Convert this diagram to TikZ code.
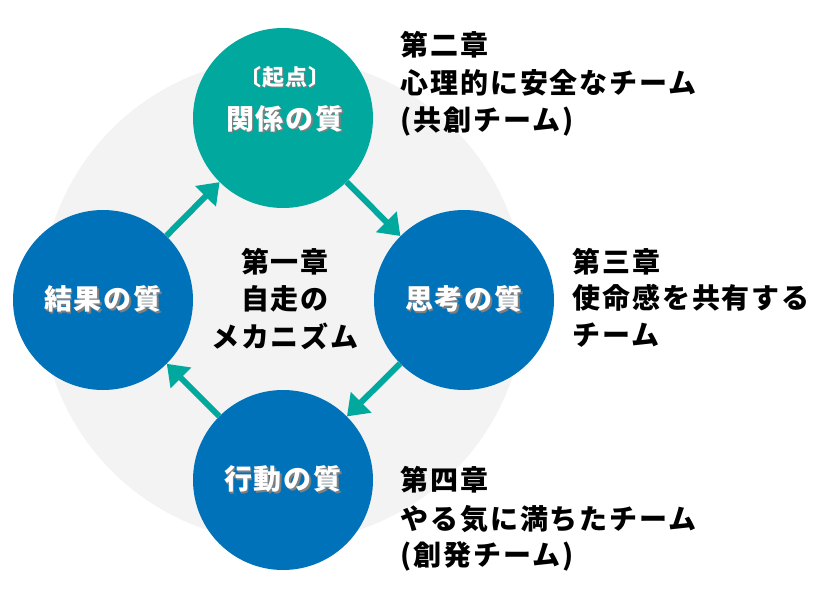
\documentclass[tikz,border=0pt]{standalone}
\usepackage{fontspec}
\setmainfont{Noto Sans CJK JP}
\newfontfamily\jpfont{Noto Sans CJK JP}
\usetikzlibrary{arrows.meta}
\definecolor{tealq}{RGB}{0,168,157}
\definecolor{blueq}{RGB}{0,114,185}
\definecolor{bggray}{RGB}{243,243,243}
\newcommand{\jpbig}{\jpfont\bfseries\fontsize{28pt}{37pt}\selectfont\addfontfeature{LetterSpace=7}}
\newcommand{\jpsmall}{\jpfont\bfseries\fontsize{22pt}{30pt}\selectfont\addfontfeature{LetterSpace=5}}
\newcommand{\shtext}[1]{\makebox[0pt][l]{\hspace{1.3pt}\raisebox{-1.3pt}{\color{black!50}#1}}#1}
\tikzset{
  qual/.style={circle, minimum size=180pt, inner sep=0pt, text=white, font=\jpbig},
  arr/.style={draw=tealq, line width=6pt, -{Triangle[length=20pt,width=28pt]}},
  txtline/.style={anchor=west, inner sep=0pt, font=\jpbig, text=black, text height=22pt, text depth=3pt},
  midline/.style={anchor=center, inner sep=0pt, font=\jpbig, text=black, text height=22pt, text depth=3pt}
}
\begin{document}
\begin{tikzpicture}[x=1pt,y=-1pt]
\useasboundingbox (0,0) rectangle (837,602);
\fill[bggray] (283,300) circle[radius=242];
% quality circles
\node[qual, fill=tealq] (rel) at (283,118) {};
\node[qual, fill=blueq] (thk) at (464,300) {\shtext{思考の質}};
\node[qual, fill=blueq] (act) at (283,480) {\shtext{行動の質}};
\node[qual, fill=blueq] (res) at (103,300) {\shtext{結果の質}};
\node[inner sep=0pt, text=white, font=\jpsmall] (start) at (285,78) {\shtext{〔起点〕}};
\node[inner sep=0pt, text=white, font=\jpbig, text height=22pt, text depth=3pt] (rellbl) at (285,120) {\shtext{関係の質}};
% arrows
\draw[arr] (res) -- (rel);
\draw[arr] (rel) -- (thk);
\draw[arr] (thk) -- (act);
\draw[arr] (act) -- (res);
% centre text
\node[midline] (c1) at (285,263) {第一章};
\node[midline] (c2) at (285,300) {自走の};
\node[midline] (c3) at (285,338) {メカニズム};
% chapter two
\node[txtline] (t21) at (400,46) {第二章};
\node[txtline] (t22) at (400,84) {心理的に安全なチーム};
\node[txtline] (t23) at (400,121) {(共創チーム)};
% chapter three
\node[txtline] (t31) at (572,263) {第三章};
\node[txtline] (t32) at (572,299) {使命感を共有する};
\node[txtline] (t33) at (572,336) {チーム};
% chapter four
\node[txtline] (t41) at (400,481) {第四章};
\node[txtline] (t42) at (400,520) {やる気に満ちたチーム};
\node[txtline] (t43) at (400,556) {(創発チーム)};
\end{tikzpicture}
\end{document}
